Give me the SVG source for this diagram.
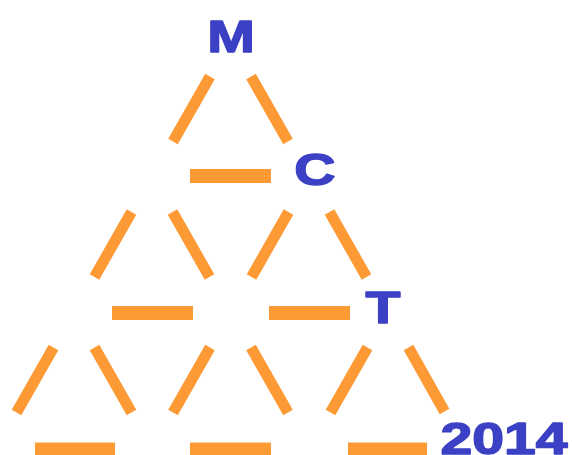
<svg xmlns="http://www.w3.org/2000/svg" width="572" height="455" viewBox="0 0 572 455">
<style>
.d{stroke:#fd9a35;stroke-width:11;stroke-linecap:butt;fill:none}
.h{fill:#fd9a35}
.t{font-family:"Liberation Sans",Arial,sans-serif;font-weight:bold;font-size:44px;fill:#3b40c4;stroke:#3b40c4;stroke-width:1.4;stroke-linejoin:round;text-anchor:middle}
</style>
<rect width="572" height="455" fill="#ffffff"/>
<g id="matches">
<g id="tri-1">
<line class="d" x1="210" y1="76.5" x2="173" y2="141.5"/>
<line class="d" x1="251" y1="76.5" x2="288" y2="141.5"/>
<rect class="h" x="190" y="169" width="81" height="14"/>
</g>
<g id="tri-2a">
<line class="d" x1="131.5" y1="212" x2="94.5" y2="277"/>
<line class="d" x1="172.5" y1="212" x2="209.5" y2="277"/>
<rect class="h" x="112" y="306" width="81" height="14"/>
</g>
<g id="tri-2b">
<line class="d" x1="288.5" y1="212" x2="251.5" y2="277"/>
<line class="d" x1="329.5" y1="212" x2="366.5" y2="277"/>
<rect class="h" x="269" y="306" width="81" height="14"/>
</g>
<g id="tri-3a">
<line class="d" x1="53.5" y1="347.5" x2="16.5" y2="412.5"/>
<line class="d" x1="94.5" y1="347.5" x2="131.5" y2="412.5"/>
<rect class="h" x="35" y="442.5" width="80" height="14"/>
</g>
<g id="tri-3b">
<line class="d" x1="210" y1="347.5" x2="173" y2="412.5"/>
<line class="d" x1="251" y1="347.5" x2="288" y2="412.5"/>
<rect class="h" x="190" y="442.5" width="81" height="14"/>
</g>
<g id="tri-3c">
<line class="d" x1="367.5" y1="347.5" x2="330.5" y2="412.5"/>
<line class="d" x1="408.5" y1="347.5" x2="444.5" y2="411.5"/>
<rect class="h" x="348" y="442.5" width="79" height="14"/>
</g>
</g>
<g id="label-M"><text class="t" transform="matrix(1.3 0 0 1 231 52)">M</text></g>
<g id="label-C"><text class="t" transform="matrix(1.3 0 0 1 315 185)">C</text></g>
<g id="label-T"><text class="t" transform="matrix(1.3 0 0 1 383 323)">T</text></g>
<g id="label-2014"><text class="t" transform="matrix(1.3 0 0 1 504 454)">2014</text></g>
</svg>
